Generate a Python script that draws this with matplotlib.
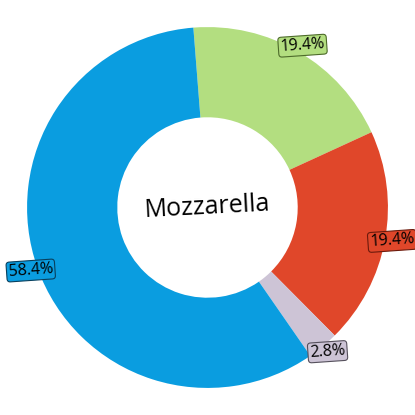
import matplotlib.pyplot as plt
import numpy as np

plt.rcParams['font.family'] = ['Open Sans', 'DejaVu Sans']

labels = ["Green", "Red", "Lavender", "Blue"]
shares = [19.4, 19.4, 2.8, 58.4]
pct_text = ["19.4%", "19.4%", "2.8%", "58.4%"]
colors = ["#b3de80", "#e0472a", "#cdc4d6", "#0a9de0"]
edges = ["#4d6b2a", "#6b1a0c", "#55505c", "#08405e"]
center_label = "Mozzarella"

fig = plt.figure(figsize=(4.15, 4.15), dpi=100)
ax = fig.add_axes([0, 0, 1, 1])

start = 94.5
wedges, _ = ax.pie(shares, colors=colors, startangle=start, counterclock=False,
                   radius=1.0, wedgeprops=dict(width=0.5, linewidth=0))

# percentage labels sitting on the outer rim
for w, t, c, e in zip(wedges, pct_text, colors, edges):
    ang = np.deg2rad((w.theta1 + w.theta2) / 2)
    r = 1.04
    ax.text(r * np.cos(ang), r * np.sin(ang), t, ha="center", va="center",
            fontsize=11.5, rotation=4,
            bbox=dict(boxstyle="round,pad=0.12,rounding_size=0.2", fc=c, ec=e, lw=0.8))

ax.text(0, 0, center_label, ha="center", va="center", fontsize=18, rotation=3)

ax.set_xlim(-1.15, 1.15)
ax.set_ylim(-1.15, 1.15)
ax.set_aspect("equal")
ax.axis("off")

plt.savefig("out.png", dpi=100)
